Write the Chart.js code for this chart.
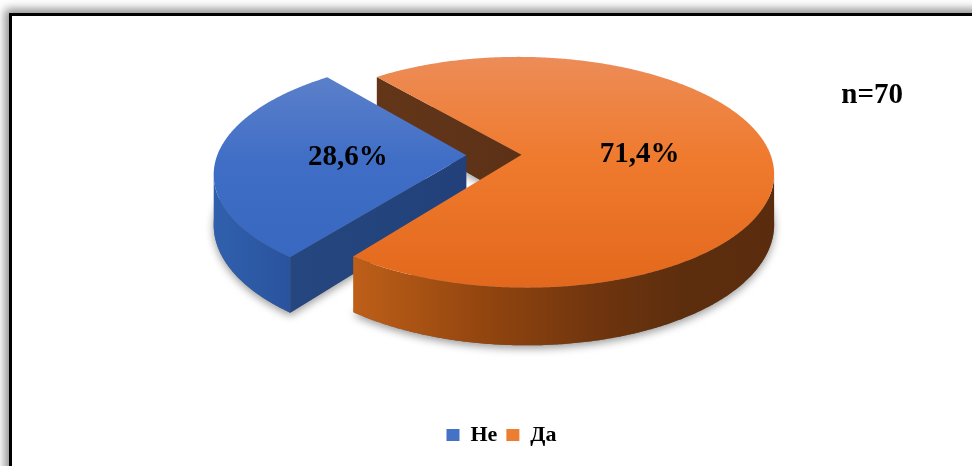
<!DOCTYPE html>
<html lang="ru">
<head>
<meta charset="utf-8">
<title>n=70</title>
<script src="https://cdn.jsdelivr.net/npm/chart.js@4.4.1/dist/chart.umd.min.js"></script>
<style>
  html, body { margin: 0; padding: 0; background: #fff; overflow: hidden; }
  #wrap { position: relative; width: 972px; height: 466px; }
  #chart { position: absolute; left: 0; top: 0; }
  .frame {
    position: absolute; left: 9px; top: 13px; width: 1000px; height: 500px;
    border: 3px solid #000;
    box-shadow: -2px -2px 9px 2px rgba(0, 0, 0, 0.45);
    pointer-events: none;
  }
</style>
</head>
<body>
<div id="wrap">
  <canvas id="chart" width="972" height="466"></canvas>
  <div class="frame"></div>
</div>
<script>
// answers and their shares, %
const categories = ['Не', 'Да'];
const shares = [28.6, 71.4];
const sampleSize = 70;

const sliceColors = ['#4472C4', '#ED7D31'];

// shading of the 3d body, per slice
const topShades = [
  [[0, '#6286cd'], [0.1, '#5a7fca'], [0.45, '#406ec6'], [0.9, '#3767c0'], [1, '#3564bd']],
  [[0, '#ec8c58'], [0.2, '#ee8444'], [0.45, '#ef7a2d'], [0.9, '#e56b1f'], [1, '#e2681d']]
];
const rimShades = [
  [[0, '#3060ad'], [1, '#2a539e']],
  [[0, '#be5f19'], [0.3, '#94460f'], [0.58, '#6f350e'], [0.78, '#5d2e0e'], [1, '#5a2c0d']]
];
const cutShades = [
  [[0, '#25467f'], [1, '#22417a']],
  [[0, '#633619'], [1, '#5c3117']]
];

// projection of the unit pie onto the canvas
const CX = 494, CY = 155;
const SX = 249, SY = 112.8;
const PERSP = 0.1515;
const DEPTH = 49;
const EXPLODE = 0.111;
const TOP_Y = 57, BOTTOM_Y = 288;
const STEP = Math.PI / 360;

function project(u, v, z) {
  const den = 1 - PERSP * v;
  return [CX + SX * u / den, CY + (SY * v + DEPTH * z) / den];
}

function rimPoint(sl, a, z) {
  return project(sl.ox + Math.cos(a), sl.oy + Math.sin(a), z);
}

function traceArc(ctx, sl, a, b, z) {
  const n = Math.max(2, Math.ceil(Math.abs(b - a) / STEP));
  for (let k = 0; k <= n; k++) {
    const p = rimPoint(sl, a + (b - a) * k / n, z);
    ctx.lineTo(p[0], p[1]);
  }
}

function gradient(ctx, x0, y0, x1, y1, stops) {
  const g = ctx.createLinearGradient(x0, y0, x1, y1);
  stops.forEach(([o, c]) => g.addColorStop(o, c));
  return g;
}

// front part of the rim that can be seen
function visibleRanges(sl) {
  const a0 = Math.asin(PERSP), a1 = Math.PI - Math.asin(PERSP);
  const out = [];
  for (let k = -1; k <= 2; k++) {
    const lo = Math.max(sl.s, a0 + 2 * Math.PI * k);
    const hi = Math.min(sl.e, a1 + 2 * Math.PI * k);
    if (hi > lo) out.push([lo, hi]);
  }
  return out;
}

const pie3d = {
  id: 'pie3d',
  beforeDatasetsDraw(chart) {
    const ctx = chart.ctx;
    const arcs = chart.getDatasetMeta(0).data;
    const slices = arcs.map((arc, i) => {
      const mid = (arc.startAngle + arc.endAngle) / 2;
      return { i, s: arc.startAngle, e: arc.endAngle,
        ox: Math.cos(mid) * EXPLODE, oy: Math.sin(mid) * EXPLODE };
    });

    ctx.save();

    // soft shadow under the bottoms
    ctx.shadowColor = 'rgba(0,0,0,0.4)';
    ctx.shadowBlur = 9;
    ctx.shadowOffsetY = 3;
    ctx.fillStyle = '#666';
    slices.forEach(sl => {
      ctx.beginPath();
      const c = project(sl.ox, sl.oy, 1);
      ctx.moveTo(c[0], c[1]);
      traceArc(ctx, sl, sl.s, sl.e, 1);
      ctx.closePath();
      ctx.fill();
    });
    ctx.shadowColor = 'transparent';
    ctx.shadowBlur = 0;
    ctx.shadowOffsetY = 0;

    // side faces, back to front
    const faces = [];
    slices.forEach(sl => {
      const cuts = [];
      if (Math.cos(sl.s) < 0) cuts.push(sl.s);
      if (Math.cos(sl.e) > 0) cuts.push(sl.e);
      cuts.forEach(a => {
        faces.push({ depth: sl.oy + 0.5 * Math.sin(a), draw() {
          const c0 = project(sl.ox, sl.oy, 0), c1 = project(sl.ox, sl.oy, 1);
          const r0 = rimPoint(sl, a, 0), r1 = rimPoint(sl, a, 1);
          ctx.beginPath();
          ctx.moveTo(c0[0], c0[1]);
          ctx.lineTo(r0[0], r0[1]);
          ctx.lineTo(r1[0], r1[1]);
          ctx.lineTo(c1[0], c1[1]);
          ctx.closePath();
          ctx.fillStyle = gradient(ctx, Math.min(c0[0], r0[0]), 0, Math.max(c0[0], r0[0]), 0, cutShades[sl.i]);
          ctx.fill();
        } });
      });
      visibleRanges(sl).forEach(([a, b]) => {
        faces.push({ depth: sl.oy + Math.sin((a + b) / 2), draw() {
          const xs = [];
          for (let t = a; t <= b; t += STEP) xs.push(rimPoint(sl, t, 0)[0]);
          xs.push(rimPoint(sl, b, 0)[0]);
          const x0 = Math.min(...xs), x1 = Math.max(...xs);
          ctx.beginPath();
          const p = rimPoint(sl, a, 0);
          ctx.moveTo(p[0], p[1]);
          traceArc(ctx, sl, a, b, 0);
          traceArc(ctx, sl, b, a, 1);
          ctx.closePath();
          ctx.fillStyle = gradient(ctx, x0, 0, x1, 0, rimShades[sl.i]);
          ctx.fill();
        } });
      });
    });
    faces.sort((f, g) => f.depth - g.depth).forEach(f => f.draw());

    // top faces
    slices.forEach(sl => {
      ctx.beginPath();
      const c = project(sl.ox, sl.oy, 0);
      ctx.moveTo(c[0], c[1]);
      traceArc(ctx, sl, sl.s, sl.e, 0);
      ctx.closePath();
      ctx.fillStyle = gradient(ctx, 0, TOP_Y, 0, BOTTOM_Y, topShades[sl.i]);
      ctx.fill();
    });

    // value labels
    ctx.fillStyle = '#000';
    ctx.font = 'bold 29px "Liberation Serif", "Times New Roman", serif';
    ctx.textAlign = 'center';
    ctx.textBaseline = 'middle';
    slices.forEach(sl => {
      const mid = (sl.s + sl.e) / 2;
      const p = project(sl.ox + 0.475 * Math.cos(mid), sl.oy + 0.475 * Math.sin(mid), 0);
      ctx.fillText(shares[sl.i].toFixed(1).replace('.', ',') + '%', p[0], p[1] + 1);
    });

    // sample size
    ctx.textAlign = 'right';
    ctx.textBaseline = 'alphabetic';
    ctx.fillText('n=' + sampleSize, 903, 103);

    ctx.restore();
    return false;
  }
};

new Chart(document.getElementById('chart'), {
  type: 'pie',
  data: {
    labels: categories,
    datasets: [{ data: shares, backgroundColor: sliceColors, borderWidth: 0 }]
  },
  options: {
    responsive: false,
    animation: false,
    rotation: 217.5,
    layout: { padding: { left: 31, bottom: 10 } },
    plugins: {
      legend: {
        position: 'bottom',
        labels: {
          boxWidth: 13,
          boxHeight: 12,
          padding: 9,
          color: '#000',
          font: { family: '"Liberation Serif", "Times New Roman", serif', size: 22, weight: 'bold' }
        }
      },
      tooltip: { enabled: false }
    }
  },
  plugins: [pie3d]
});
</script>
</body>
</html>
